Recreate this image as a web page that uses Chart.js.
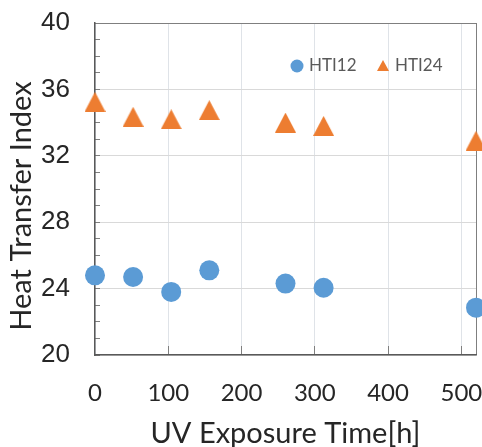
<!DOCTYPE html>
<html><head><meta charset="utf-8">
<script src="https://cdn.jsdelivr.net/npm/chart.js@4.4.0/dist/chart.umd.min.js"></script>
<style>html,body{margin:0;padding:0;background:#fff;overflow:hidden}</style>
</head><body>
<canvas id="c" width="482" height="447"></canvas>
<script>
// ---- data ----
const exposureHours = [0, 52, 104, 156, 260, 312, 520];
const hti12 = [24.8, 24.7, 23.8, 25.1, 24.3, 24.05, 22.85];
const hti24 = [35.25, 34.35, 34.2, 34.75, 34.0, 33.8, 32.9];
const seriesNames = ['HTI12', 'HTI24'];
const xTickValues = [0, 100, 200, 300, 400, 500];
const yTickLabels = [20, 24, 28, 32, 36, 40];
const xMax = 520;
const yMin = 20, yMax = 40;

const BLUE = '#5b9bd5', ORANGE = '#ed7d31';

function makeTriangle(w, h, color) {
  const c = document.createElement('canvas');
  c.width = w; c.height = h;
  const g = c.getContext('2d');
  g.fillStyle = color;
  g.beginPath();
  g.moveTo(w / 2, 0); g.lineTo(w, h); g.lineTo(0, h); g.closePath();
  g.fill();
  return c;
}
const triMarker = makeTriangle(21, 20, ORANGE);
const triLegend = makeTriangle(12, 11, ORANGE);

const toPts = (ys) => exposureHours.map((x, i) => ({x: x, y: ys[i]}));

const overlay = {
  id: 'overlay',
  afterDraw(chart) {
    const ctx = chart.ctx;
    ctx.save();
    // legend inside plot
    ctx.fillStyle = BLUE;
    ctx.beginPath(); ctx.arc(297, 66, 6.5, 0, Math.PI * 2); ctx.fill();
    ctx.drawImage(triLegend, 377, 60);
    ctx.fillStyle = '#595959';
    ctx.font = '17px Lato';
    ctx.textBaseline = 'middle';
    ctx.textAlign = 'left';
    ctx.fillText(seriesNames[0], 309, 66);
    ctx.fillText(seriesNames[1], 395, 66);
    // y axis title
    ctx.translate(22, 206);
    ctx.rotate(-Math.PI / 2);
    ctx.textAlign = 'center';
    ctx.fillStyle = '#262626';
    ctx.font = '29px Lato';
    ctx.fillText('Heat Transfer Index', 0, 0);
    ctx.restore();
  }
};

new Chart(document.getElementById('c'), {
  type: 'scatter',
  data: {
    datasets: [
      {label: seriesNames[0], data: toPts(hti12), backgroundColor: BLUE, borderColor: BLUE,
       pointStyle: 'circle', pointRadius: 10, pointHoverRadius: 10, borderWidth: 0, clip: false},
      {label: seriesNames[1], data: toPts(hti24), backgroundColor: ORANGE, borderColor: ORANGE,
       pointStyle: triMarker, pointRadius: 10, pointHoverRadius: 10, borderWidth: 0, clip: false}
    ]
  },
  options: {
    responsive: false,
    animation: false,
    layout: {autoPadding: false, padding: {top: 23, right: 6, left: 0, bottom: 0}},
    plugins: {legend: {display: false}, tooltip: {enabled: false}},
    scales: {
      x: {
        type: 'linear', min: 0, max: xMax,
        afterBuildTicks: (s) => { s.ticks = xTickValues.concat([xMax]).map(v => ({value: v})); },
        afterFit: (s) => { s.height = 92; s.paddingRight = 0; s.paddingLeft = 0; },
        ticks: {
          autoSkip: false, maxRotation: 0, padding: 33,
          color: '#262626', font: {family: 'Lato', size: 24},
          callback: (v) => xTickValues.includes(v) ? String(v) : ''
        },
        grid: {
          drawTicks: true, tickLength: -9,
          color: (c) => c.tick && c.tick.value === xMax ? '#7f7f7f' : '#dfe3e8',
          tickColor: (c) => c.tick && (c.tick.value === 0 || c.tick.value === xMax) ? 'rgba(0,0,0,0)' : '#7f7f7f',
          lineWidth: 1
        },
        border: {display: true, color: '#595959', width: 1.5},
        title: {display: true, text: 'UV Exposure Time[h]', color: '#262626',
          font: {family: 'Lato', size: 29, lineHeight: 1}, padding: {top: 0, bottom: -1}}
      },
      y: {
        type: 'linear', min: yMin, max: yMax,
        afterBuildTicks: (s) => { const t = []; for (let v = yMin; v <= yMax; v++) t.push({value: v}); s.ticks = t; },
        afterFit: (s) => { s.width = 95; s.paddingTop = 0; s.paddingBottom = 0; },
        ticks: {
          autoSkip: false, padding: 30,
          color: '#262626', font: {family: 'Liberation Sans', size: 26},
          callback: (v) => yTickLabels.includes(v) ? String(v) : ''
        },
        grid: {
          drawTicks: true, tickLength: -5,
          color: (c) => {
            const v = c.tick ? c.tick.value : 0;
            if (v === yMax) return '#7f7f7f';
            return yTickLabels.includes(v) ? '#d9d9d9' : 'rgba(0,0,0,0)';
          },
          tickColor: '#7f7f7f',
          lineWidth: 1
        },
        border: {display: true, color: '#595959', width: 1.5}
      }
    }
  },
  plugins: [overlay]
});
</script>
</body></html>
